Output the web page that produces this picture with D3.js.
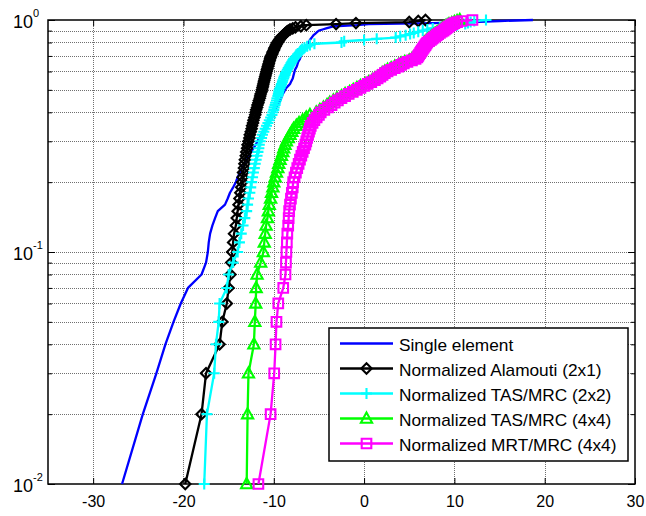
<!DOCTYPE html>
<html>
<head>
<meta charset="utf-8">
<script src="https://cdn.jsdelivr.net/npm/d3@7"></script>
<style>
  html, body { margin: 0; padding: 0; background: #fff; }
  svg { display: block; font-family: "Liberation Sans", Arial, sans-serif; }
</style>
</head>
<body>
<svg id="chart" width="646" height="516"></svg>
<script>
// ---------------- data ----------------
const cdfLevels = [0.01,0.02,0.03,0.04,0.05,0.06,0.07,0.08,0.09,0.10,
  0.11,0.12,0.13,0.14,0.15,0.16,0.17,0.18,0.19,0.20,
  0.21,0.22,0.23,0.24,0.25,0.26,0.27,0.28,0.29,0.30,
  0.31,0.32,0.33,0.34,0.35,0.36,0.37,0.38,0.39,0.40,
  0.41,0.42,0.43,0.44,0.45,0.46,0.47,0.48,0.49,0.50,
  0.51,0.52,0.53,0.54,0.55,0.56,0.57,0.58,0.59,0.60,
  0.61,0.62,0.63,0.64,0.65,0.66,0.67,0.68,0.69,0.70,
  0.71,0.72,0.73,0.74,0.75,0.76,0.77,0.78,0.79,0.80,
  0.81,0.82,0.83,0.84,0.85,0.86,0.87,0.88,0.89,0.90,
  0.91,0.92,0.93,0.94,0.95,0.96,0.97,0.98,0.99,1.00];

const singleElement = [-26.8,-24.5,-23.0,-22.0,-21.1,-20.3,-19.5,-18.0,-17.5,-17.3,
  -17.2,-17.05,-16.8,-16.5,-16.2,-15.4,-15.1,-14.85,-14.5,-14.2,
  -14.0,-13.75,-13.5,-13.25,-13.0,-12.75,-12.5,-12.25,-12.0,-11.8,
  -11.6,-11.4,-11.2,-11.0,-10.8,-10.6,-10.45,-10.3,-10.15,-10.0,
  -9.85,-9.7,-9.6,-9.45,-9.3,-9.2,-9.1,-9.0,-8.85,-8.75,
  -8.6,-8.4,-8.2,-8.1,-8.0,-7.9,-7.85,-7.8,-7.75,-7.7,
  -7.65,-7.55,-7.45,-7.4,-7.35,-7.3,-7.2,-7.1,-7.05,-7.0,
  -6.95,-6.9,-6.85,-6.7,-6.6,-6.5,-6.4,-6.3,-6.2,-6.1,
  -6.05,-6.0,-5.9,-5.8,-5.7,-5.6,-5.45,-5.3,-5.15,-5.0,
  -4.6,-4.2,-3.8,-3.3,-0.8,0.5,7.6,12.0,15.0,18.7];

const alamouti2x1 = [-19.8,-18.0,-17.5,-16.0,-15.7,-15.2,-15.0,-14.8,-14.7,-14.6,
  -14.5,-14.4,-14.2,-14.1,-14.0,-13.9,-13.8,-13.7,-13.6,-13.5,
  -13.45,-13.4,-13.3,-13.25,-13.2,-13.1,-13.05,-12.95,-12.9,-12.8,
  -12.7,-12.65,-12.55,-12.45,-12.4,-12.3,-12.25,-12.15,-12.05,-12.0,
  -11.95,-11.85,-11.8,-11.7,-11.65,-11.55,-11.5,-11.45,-11.35,-11.3,
  -11.25,-11.2,-11.15,-11.1,-11.05,-11.0,-10.95,-10.9,-10.85,-10.8,
  -10.75,-10.7,-10.65,-10.6,-10.55,-10.5,-10.45,-10.4,-10.35,-10.3,
  -10.2,-10.15,-10.1,-10.0,-9.95,-9.9,-9.8,-9.75,-9.65,-9.6,
  -9.5,-9.4,-9.3,-9.2,-9.1,-8.95,-8.8,-8.7,-8.55,-8.4,
  -8.2,-7.9,-7.6,-7.0,-6.4,-3.1,-0.9,5.0,6.0,6.8];

const tasMrc2x2 = [-17.7,-17.4,-16.6,-16.4,-16.1,-16.0,-15.2,-15.0,-14.5,-14.0,
  -13.8,-13.6,-13.4,-13.2,-13.0,-12.9,-12.8,-12.65,-12.55,-12.45,
  -12.35,-12.25,-12.15,-12.05,-11.95,-11.85,-11.75,-11.65,-11.6,-11.5,
  -11.35,-11.25,-11.1,-10.95,-10.8,-10.65,-10.5,-10.35,-10.2,-10.1,
  -10.0,-9.95,-9.85,-9.8,-9.7,-9.65,-9.55,-9.5,-9.45,-9.4,
  -9.3,-9.2,-9.15,-9.05,-9.0,-8.9,-8.85,-8.75,-8.7,-8.6,
  -8.5,-8.4,-8.3,-8.2,-8.1,-8.0,-7.9,-7.8,-7.65,-7.5,
  -7.35,-7.2,-7.1,-7.0,-6.85,-6.6,-6.3,-6.0,-5.5,-2.5,
  -2.2,0.0,1.4,3.5,4.0,4.6,5.1,5.5,6.0,6.5,
  7.0,7.6,8.4,9.3,10.3,11.2,11.5,11.8,12.2,13.5];

const tasMrc4x4 = [-13.0,-12.9,-12.8,-12.2,-12.1,-12.0,-11.95,-11.85,-11.45,-11.15,
  -11.05,-10.95,-10.85,-10.7,-10.6,-10.5,-10.35,-10.25,-10.1,-10.0,
  -9.85,-9.7,-9.55,-9.45,-9.3,-9.15,-9.0,-8.9,-8.75,-8.6,
  -8.4,-8.2,-8.0,-7.8,-7.5,-7.2,-6.8,-6.4,-6.0,-5.3,
  -4.9,-4.5,-4.1,-3.8,-3.4,-3.0,-2.5,-2.1,-1.6,-1.2,
  -0.8,-0.4,0.1,0.5,0.9,1.2,1.5,1.8,2.0,2.3,
  2.6,3.0,3.4,3.8,4.1,4.5,5.0,5.3,5.5,5.7,
  5.8,5.9,6.0,6.1,6.2,6.3,6.4,6.5,6.6,6.7,
  6.85,7.0,7.2,7.35,7.5,7.7,7.85,8.0,8.2,8.4,
  8.55,8.7,8.85,9.0,9.2,9.4,9.7,10.0,10.3,10.6];

const mrtMrc4x4 = [-11.7,-10.35,-9.95,-9.8,-9.7,-9.5,-8.95,-8.7,-8.65,-8.6,
  -8.55,-8.5,-8.4,-8.35,-8.3,-8.2,-8.1,-8.0,-7.9,-7.85,
  -7.7,-7.55,-7.4,-7.25,-7.1,-6.95,-6.8,-6.65,-6.5,-6.4,
  -6.3,-6.2,-6.1,-6.0,-5.9,-5.7,-5.5,-5.25,-5.0,-4.8,
  -4.4,-4.0,-3.6,-3.25,-2.9,-2.5,-2.1,-1.7,-1.25,-0.8,
  -0.4,0.0,0.4,0.8,1.2,1.5,1.8,2.05,2.3,2.6,
  3.0,3.4,3.8,4.1,4.4,4.8,5.3,5.7,5.9,6.0,
  6.1,6.2,6.3,6.4,6.5,6.6,6.7,6.8,6.9,7.0,
  7.2,7.4,7.55,7.7,7.9,8.05,8.2,8.4,8.6,8.8,
  8.95,9.1,9.25,9.4,9.6,9.8,10.0,10.3,10.8,12.0];

const seriesNames = ["Single element", "Normalized Alamouti (2x1)", "Normalized TAS/MRC (2x2)",
                     "Normalized TAS/MRC (4x4)", "Normalized MRT/MRC (4x4)"];
const xTicks = [-30, -20, -10, 0, 10, 20, 30];
const yMajorTicks = [0.01, 0.1, 1];
const yTickExponents = ["-2", "-1", "0"];

// ---------------- styling ----------------
const seriesStyle = [
  { color: "#0000ff", marker: null },
  { color: "#000000", marker: "diamond" },
  { color: "#00ffff", marker: "plus" },
  { color: "#00ff00", marker: "triangle" },
  { color: "#ff00ff", marker: "square" }
];
const seriesValues = [singleElement, alamouti2x1, tasMrc2x2, tasMrc4x4, mrtMrc4x4];

const svg = d3.select("#chart");
const L = 48, R = 635, T = 20, B = 484;

const x = d3.scaleLinear().domain([-35, 30]).range([L, R]);
const y = d3.scaleLog().domain([0.01, 1]).range([B, T]);

// minor y values (2..9 per decade)
const yMinor = [];
[0.01, 0.1].forEach(d => { for (let k = 2; k <= 9; k++) yMinor.push(+(d * k).toFixed(3)); });

// grid
const grid = svg.append("g");
const gridStyle = sel => sel.attr("stroke", "#707070").attr("stroke-width", 1).attr("stroke-dasharray", "1,1").attr("shape-rendering", "crispEdges");
grid.selectAll("line.gx").data(xTicks.filter(v => x(v) > L + 1 && x(v) < R - 1)).enter().append("line")
  .attr("x1", d => Math.round(x(d)) + 0.5).attr("x2", d => Math.round(x(d)) + 0.5)
  .attr("y1", T).attr("y2", B).call(gridStyle);
grid.selectAll("line.gy").data(yMinor.concat([0.1])).enter().append("line")
  .attr("y1", d => Math.round(y(d)) + 0.5).attr("y2", d => Math.round(y(d)) + 0.5)
  .attr("x1", L).attr("x2", R).call(gridStyle);

// axes (inward ticks)
const gB = svg.append("g").attr("transform", `translate(0,${B})`)
  .call(d3.axisBottom(x).tickValues(xTicks).tickSizeInner(-6).tickSizeOuter(0).tickPadding(12));
const gT = svg.append("g").attr("transform", `translate(0,${T})`)
  .call(d3.axisTop(x).tickValues(xTicks).tickSizeInner(-6).tickSizeOuter(0).tickFormat(""));
const gL = svg.append("g").attr("transform", `translate(${L},0)`)
  .call(d3.axisLeft(y).tickValues(yMajorTicks).tickSizeInner(-7).tickSizeOuter(0).tickFormat(""));
const gLm = svg.append("g").attr("transform", `translate(${L},0)`)
  .call(d3.axisLeft(y).tickValues(yMinor).tickSizeInner(-4).tickSizeOuter(0).tickFormat(""));
const gR = svg.append("g").attr("transform", `translate(${R},0)`)
  .call(d3.axisRight(y).tickValues(yMajorTicks).tickSizeInner(-7).tickSizeOuter(0).tickFormat(""));
const gRm = svg.append("g").attr("transform", `translate(${R},0)`)
  .call(d3.axisRight(y).tickValues(yMinor).tickSizeInner(-4).tickSizeOuter(0).tickFormat(""));
[gB, gT, gL, gLm, gR, gRm].forEach(g => {
  g.select(".domain").remove();
  g.selectAll(".tick line").attr("stroke", "#000").attr("stroke-width", 1);
});
gB.selectAll(".tick text").attr("font-size", "16px").attr("fill", "#000")
  .attr("font-family", "'Liberation Sans', Arial, sans-serif")
  .text(d => (d < 0 ? "-" + Math.abs(d) : String(d)));

// y tick labels 10^n
const yl = svg.append("g");
yMajorTicks.forEach((v, i) => {
  const t = yl.append("text").attr("x", 13).attr("y", y(v) + 8)
    .attr("font-size", "18px").attr("fill", "#000");
  t.append("tspan").text("10");
  t.append("tspan").attr("dy", -11).attr("font-size", "11px").text(yTickExponents[i]);
});

// axis box
svg.append("rect").attr("x", L).attr("y", T).attr("width", R - L).attr("height", B - T)
  .attr("fill", "none").attr("stroke", "#000").attr("stroke-width", 1.5);

// marker paths
function markerPath(type) {
  switch (type) {
    case "diamond": return "M0,-5.2L5.2,0L0,5.2L-5.2,0Z";
    case "plus": return "M-5.5,0H5.5M0,-5.5V5.5";
    case "triangle": return "M0,-6L5.6,4.2L-5.6,4.2Z";
    case "square": return "M-4.8,-4.8H4.8V4.8H-4.8Z";
  }
  return "";
}

const line = d3.line().x(d => x(d.v)).y(d => y(d.p));
const plot = svg.append("g");
seriesValues.forEach((vals, i) => {
  const pts = vals.map((v, k) => ({ v: v, p: cdfLevels[k] }));
  const st = seriesStyle[i];
  plot.append("path").datum(pts).attr("d", line)
    .attr("fill", "none").attr("stroke", st.color).attr("stroke-width", 2.3)
    .attr("stroke-linejoin", "round");
  if (st.marker) {
    plot.append("g").selectAll("path").data(pts).enter().append("path")
      .attr("transform", d => `translate(${x(d.v)},${y(d.p)})`)
      .attr("d", markerPath(st.marker))
      .attr("fill", "none").attr("stroke", st.color).attr("stroke-width", 2.1);
  }
});

// legend
const lg = svg.append("g");
lg.append("rect").attr("x", 329).attr("y", 328).attr("width", 299).attr("height", 133)
  .attr("fill", "#fff").attr("stroke", "#000").attr("stroke-width", 1.5);
seriesNames.forEach((name, i) => {
  const ly = 343.5 + i * 25;
  const st = seriesStyle[i];
  lg.append("line").attr("x1", 340).attr("x2", 393).attr("y1", ly).attr("y2", ly)
    .attr("stroke", st.color).attr("stroke-width", 2.3);
  if (st.marker) {
    lg.append("path").attr("transform", `translate(366.5,${ly})`).attr("d", markerPath(st.marker))
      .attr("fill", "none").attr("stroke", st.color).attr("stroke-width", 2.1);
  }
  lg.append("text").attr("transform", `translate(399,${ly + 7.5}) scale(1.08,1)`)
    .attr("font-size", "16px").attr("fill", "#000").text(name);
});
</script>
</body>
</html>
